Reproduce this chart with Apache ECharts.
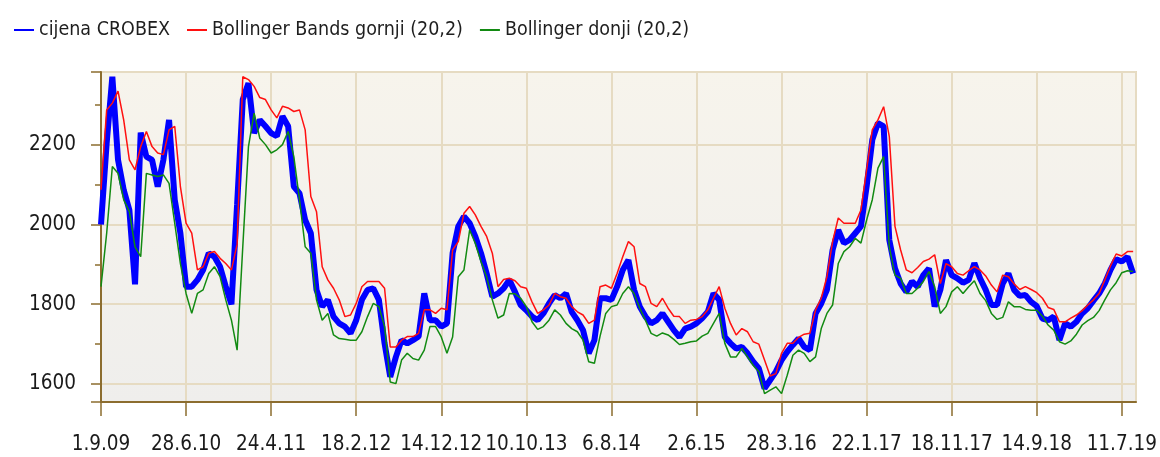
<!DOCTYPE html>
<html>
<head>
<meta charset="utf-8">
<script src="https://cdn.jsdelivr.net/npm/echarts@6/dist/echarts.min.js"></script>
<style>
html,body{margin:0;padding:0;background:#ffffff;}
#chart{width:1160px;height:457px;}
</style>
</head>
<body>
<div id="chart"></div>
<script>
// Sampling step (days) of the series below, starting at 1.9.09
var stepDays = 20;
var tickLabels = ['1.9.09','28.6.10','24.4.11','18.2.12','14.12.12','10.10.13','6.8.14','2.6.15','28.3.16','22.1.17','18.11.17','14.9.18','11.7.19'];
var seriesNames = ['cijena CROBEX','Bollinger Bands gornji (20,2)','Bollinger donji (20,2)'];

var crobex = [2000,2204,2370,2162,2087,2036,1850,2230,2170,2162,2095,2162,2262,2062,1978,1844,1844,1861,1886,1928,
1919,1894,1844,1800,2050,2313,2354,2229,2262,2246,2229,2221,2271,2246,2095,2078,2011,1978,1836,1794,
1811,1769,1752,1744,1727,1760,1811,1836,1840,1811,1702,1618,1668,1710,1702,1710,1719,1827,1760,1760,
1744,1752,1928,1995,2020,2003,1970,1928,1877,1819,1827,1840,1861,1831,1798,1785,1769,1760,1777,1802,
1823,1815,1827,1781,1760,1735,1677,1710,1815,1815,1811,1844,1886,1911,1836,1794,1769,1752,1760,1777,
1756,1735,1718,1739,1744,1752,1765,1781,1827,1811,1718,1702,1689,1693,1677,1656,1639,1589,1610,1631,
1660,1681,1698,1714,1693,1685,1777,1802,1836,1936,1986,1953,1961,1978,1995,2095,2212,2254,2246,1961,
1890,1852,1831,1857,1844,1873,1890,1794,1836,1911,1873,1865,1854,1861,1903,1865,1836,1798,1798,1852,
1877,1836,1821,1823,1806,1795,1764,1760,1769,1710,1752,1744,1756,1777,1790,1809,1827,1852,1886,1913,
1907,1919,1877];

var upperBand = [2087,2287,2304,2334,2262,2162,2137,2195,2233,2195,2179,2175,2237,2246,2095,2003,1978,1886,1894,1928,
1932,1915,1902,1886,1950,2370,2363,2346,2318,2313,2287,2267,2296,2292,2283,2287,2237,2070,2032,1894,
1861,1840,1811,1769,1773,1802,1844,1857,1857,1857,1840,1693,1693,1710,1719,1719,1727,1786,1786,1777,
1790,1786,1936,1957,2028,2045,2024,1995,1970,1928,1844,1862,1865,1859,1844,1840,1806,1777,1786,1798,
1827,1819,1815,1794,1781,1773,1752,1760,1844,1848,1840,1877,1919,1957,1944,1852,1844,1802,1794,1815,
1790,1770,1769,1752,1760,1762,1769,1786,1815,1844,1790,1752,1723,1739,1731,1706,1700,1660,1620,1626,
1677,1702,1702,1717,1725,1727,1786,1815,1869,1957,2016,2003,2003,2003,2036,2137,2237,2262,2295,2220,
1995,1936,1886,1879,1892,1907,1913,1924,1852,1902,1894,1877,1873,1884,1894,1886,1871,1848,1831,1873,
1869,1851,1837,1844,1837,1829,1815,1792,1787,1756,1756,1765,1773,1784,1798,1811,1827,1861,1896,1926,
1921,1932,1932];

var lowerBand = [1844,1978,2145,2128,2062,2032,1944,1919,2128,2124,2120,2124,2103,2003,1902,1827,1777,1827,1836,1877,
1894,1869,1811,1760,1685,1944,2195,2279,2216,2200,2179,2187,2200,2233,2170,2062,1944,1928,1811,1760,
1777,1723,1714,1712,1710,1710,1731,1769,1802,1794,1744,1605,1601,1660,1677,1664,1660,1685,1744,1744,
1718,1677,1718,1869,1886,1986,1953,1907,1869,1811,1765,1773,1827,1826,1815,1794,1756,1737,1744,1760,
1786,1773,1752,1739,1731,1710,1656,1652,1720,1777,1794,1798,1827,1844,1827,1790,1760,1727,1720,1728,
1723,1712,1699,1702,1706,1708,1720,1727,1752,1777,1702,1668,1668,1689,1668,1647,1631,1576,1585,1593,
1576,1622,1672,1685,1677,1656,1668,1739,1777,1798,1902,1932,1944,1965,1953,2011,2062,2141,2170,1944,
1873,1865,1827,1827,1840,1857,1882,1844,1777,1794,1831,1844,1827,1844,1859,1827,1809,1777,1762,1767,
1806,1794,1794,1787,1785,1785,1770,1748,1735,1706,1700,1708,1725,1748,1759,1767,1784,1811,1836,1854,
1879,1884,1882];

function toPairs(arr){ return arr.map(function(v,i){ return [i*stepDays, v]; }); }

var FONT = "'DejaVu Sans Condensed','Liberation Sans Narrow',sans-serif";
var AXIS = '#8c6d2f';
var GRIDC = '#e6dbc2';

var chart = echarts.init(document.getElementById('chart'), null, {renderer:'canvas'});
chart.setOption({
  animation:false,
  backgroundColor:'#ffffff',
  legend:{
    left:9, top:15,
    icon:'rect', itemWidth:20, itemHeight:2, itemGap:17,
    textStyle:{fontFamily:FONT, fontSize:19.5, color:'#1e1e1e'},
    data:seriesNames
  },
  grid:{
    left:101, right:24, top:72, bottom:55,
    show:true,
    borderColor:'#e4d8bc', borderWidth:2,
    backgroundColor:new echarts.graphic.LinearGradient(0,0,0,1,[
      {offset:0,color:'#f7f4ec'},{offset:1,color:'#efeeec'}])
  },
  xAxis:{
    type:'value', min:0, max:3650, interval:300,
    axisLine:{show:true, lineStyle:{color:AXIS, width:2}},
    axisTick:{show:true, length:14, lineStyle:{color:AXIS, width:1.5}},
    splitLine:{show:true, lineStyle:{color:GRIDC, width:2}},
    axisLabel:{
      margin:32, fontFamily:FONT, fontSize:20.5, color:'#1a1a1a',
      showMaxLabel:false,
      formatter:function(v){ var k=Math.round(v/300); return (Math.abs(v-k*300)<1e-6 && tickLabels[k]) ? tickLabels[k] : ''; }
    }
  },
  yAxis:{
    type:'value', min:1555, max:2382, splitNumber:5,
    axisLine:{show:true, lineStyle:{color:AXIS, width:2}},
    axisTick:{show:true, length:10, lineStyle:{color:AXIS, width:1.5}},
    minorTick:{show:true, splitNumber:2, length:6, lineStyle:{color:AXIS, width:1.5}},
    splitLine:{show:true, lineStyle:{color:GRIDC, width:2}},
    axisLabel:{
      margin:25, fontFamily:FONT, fontSize:20.5, color:'#1a1a1a',
      showMinLabel:false, showMaxLabel:false,
      formatter:function(v){ return Math.abs(v/200-Math.round(v/200))<1e-6 ? String(v) : ''; }
    }
  },
  series:[
    {name:seriesNames[0], type:'line', data:toPairs(crobex), showSymbol:false, color:'#0000ff',
     lineStyle:{color:'#0000ff', width:6}, z:2},
    {name:seriesNames[1], type:'line', data:toPairs(upperBand), showSymbol:false, color:'#ff1010',
     lineStyle:{color:'#ff1010', width:1.5}, z:3},
    {name:seriesNames[2], type:'line', data:toPairs(lowerBand), showSymbol:false, color:'#128a12',
     lineStyle:{color:'#128a12', width:1.5}, z:3}
  ]
});
</script>
</body>
</html>
